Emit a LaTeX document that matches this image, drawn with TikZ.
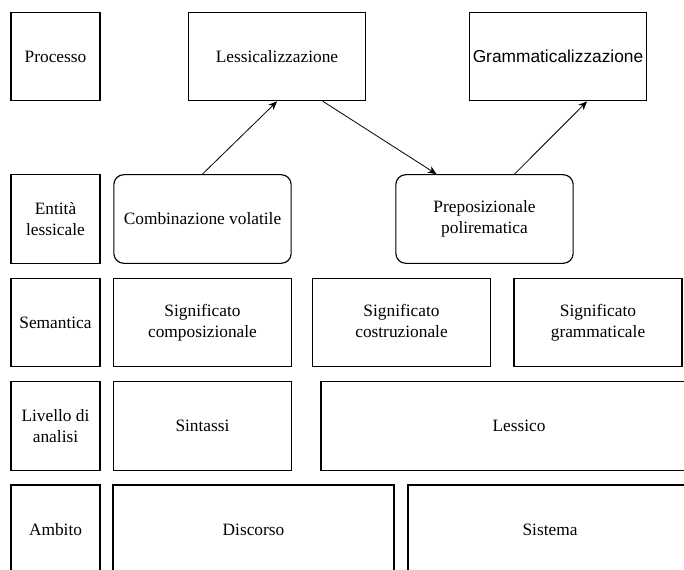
\documentclass[tikz,border=0pt]{standalone}
\usepackage{fontspec}
\setmainfont{Liberation Serif}
\newfontfamily\arialfont{Liberation Sans}
\usetikzlibrary{arrows.meta,calc}

\tikzset{
  cell/.style={draw, line width=0.85pt, inner sep=0pt, align=center,
    minimum height=66.5pt, font=\fontsize{13}{16}\selectfont},
  lab/.style={cell, minimum width=66.75pt},
  wide/.style={cell, minimum width=133pt},
  entity/.style={wide, rounded corners=7.5pt},
  arr/.style={-{Stealth[length=6.5pt,width=5.5pt]}, line width=0.6pt}
}

\begin{document}
\begin{tikzpicture}[x=0.75pt,y=-0.75pt]
\useasboundingbox (0,0) rectangle (684,570);
\clip (0,0) rectangle (684,570);

% Processo
\node[lab] (proc) at (55.5,56.5) {Processo};
\node[wide] (lex) at (277,56.5) {Lessicalizzazione};
\node[wide, font=\fontsize{13}{16}\arialfont] (gram) at (558,56.5) {Grammaticalizzazione};

% Entita lessicale
\node[lab] (ent) at (55.5,219) {Entità\\lessicale};
\node[entity] (comb) at (202.5,219) {Combinazione volatile};
\node[entity] (prep) at (484.5,219) {Preposizionale\\polirematica};

% Semantica
\node[lab] (sem) at (55.5,322.5) {Semantica};
\node[wide] (sigcomp) at (202.5,322.5) {Significato\\composizionale};
\node[wide] (sigcost) at (401.5,322.5) {Significato\\costruzionale\vphantom{p}};
\node[cell, minimum width=126pt] (siggram) at (598,322.5) {Significato\\grammaticale};

% Livello di analisi
\node[lab] (liv) at (55.5,426) {Livello di\\analisi};
\node[wide] (sint) at (202.5,426) {Sintassi};
\node[cell, minimum width=297pt] (lessico) at (519,426) {Lessico};

% Ambito
\node[lab, minimum height=67.5pt] (amb) at (55.5,530) {Ambito};
\node[cell, minimum height=67.5pt, minimum width=210.75pt] (disc) at (253.5,530) {Discorso};
\node[cell, minimum height=67.5pt, minimum width=213pt] (sist) at (550,530) {Sistema};

% arrows
\draw[arr] (comb.north) -- (lex.south);
\draw[arr] ($(lex.south)+(46,0)$) -- ($(prep.north)+(-48,0)$);
\draw[arr] ($(prep.north)+(30,0)$) -- ($(gram.south)+(29,0)$);
\end{tikzpicture}
\end{document}
